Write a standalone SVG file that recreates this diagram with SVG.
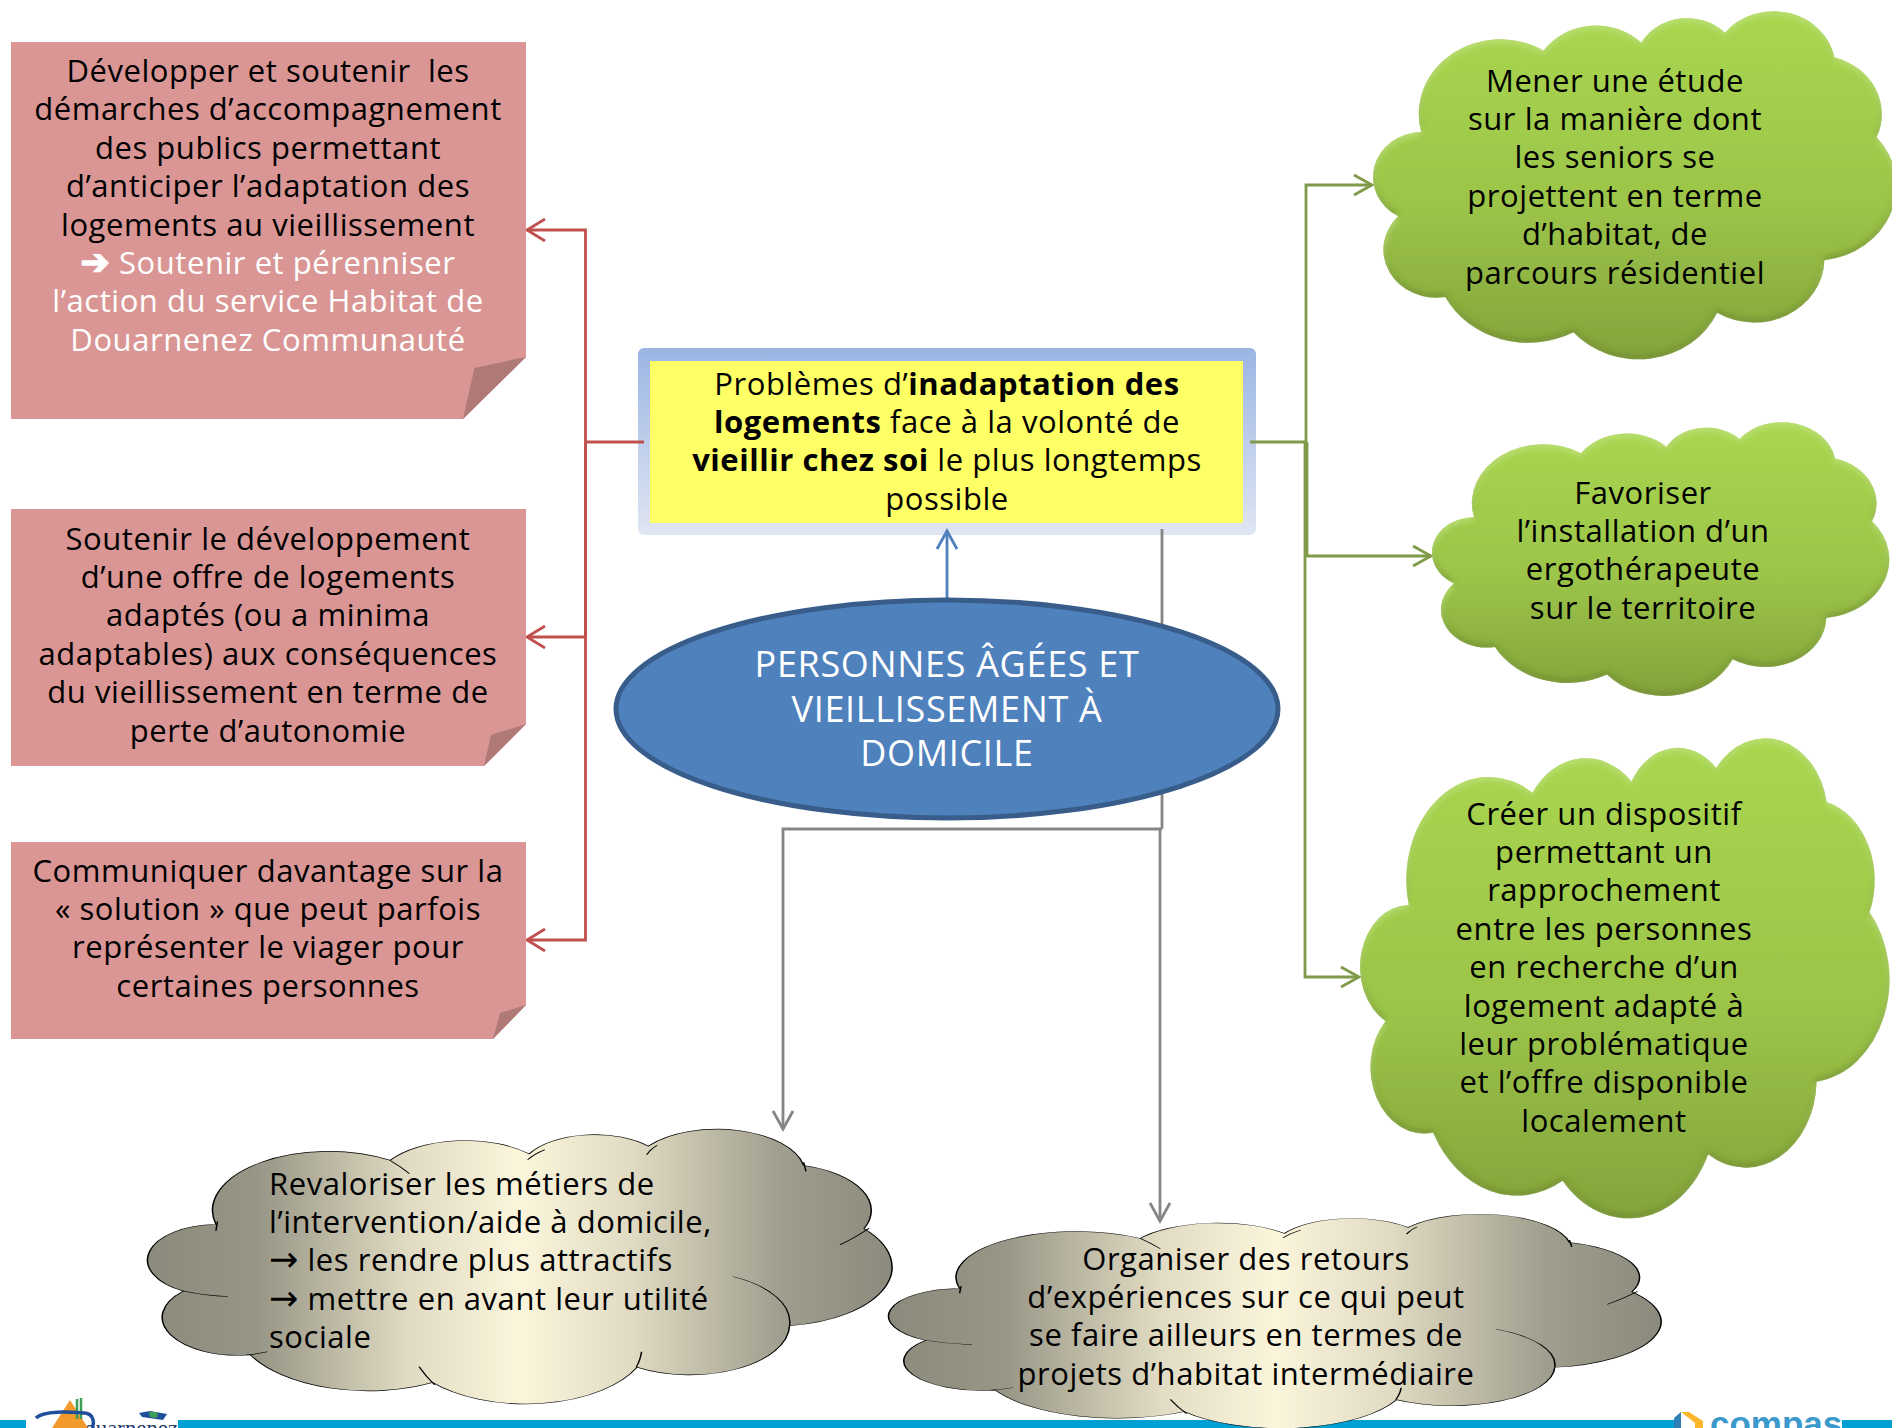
<svg xmlns="http://www.w3.org/2000/svg" width="1892" height="1428" viewBox="0 0 1892 1428">
<style>
text{font-family:"Open Sans","DejaVu Sans",sans-serif;font-size:31px;letter-spacing:.55px;fill:#000;text-anchor:middle}
.w{fill:#fff}
.l{text-anchor:start}
.big{font-size:36px;letter-spacing:.67px;fill:#fff}
.note{fill:#d99694}
.fold{fill:#ae7976}
.ar{font-family:"DejaVu Sans",sans-serif;font-weight:700;font-size:35px;stroke:#fff;stroke-width:1.500}
.ar2{font-family:"DejaVu Sans",sans-serif;font-size:35px}
.con{fill:none;stroke-width:2.800}
.red{stroke:#c0504d;marker-end:url(#mr)}
.grn{stroke:#7f9a48;marker-end:url(#mg)}
.gry{stroke:#868686;marker-end:url(#mk)}
.blu{stroke:#4f81bd;marker-end:url(#mb)}
.gc{fill:url(#gg)}
.yc{fill:url(#gy);stroke:#000;stroke-width:2;vector-effect:non-scaling-stroke}
.ya{fill:none;stroke:#000;stroke-width:2;vector-effect:non-scaling-stroke}
</style>
<defs>
<linearGradient id="gg" x1="0" y1="0" x2="0" y2="1"><stop offset="0" stop-color="#aad650"/><stop offset=".55" stop-color="#9cc549"/><stop offset="1" stop-color="#83a33c"/></linearGradient>
<linearGradient id="gy" x1="0" y1="0" x2="1" y2="0"><stop offset="0" stop-color="#8b8a7c"/><stop offset=".15" stop-color="#989686"/><stop offset=".35" stop-color="#e0dbc2"/><stop offset=".5" stop-color="#fbf5dc"/><stop offset=".65" stop-color="#e0dbc2"/><stop offset=".85" stop-color="#a09e8e"/><stop offset="1" stop-color="#8b8a7c"/></linearGradient>
<linearGradient id="gb" x1="0" y1="0" x2="0" y2="1"><stop offset="0" stop-color="#9bb5e3"/><stop offset="1" stop-color="#e0e6f3"/></linearGradient>
<filter id="bevel" x="-5%" y="-5%" width="110%" height="110%">
<feGaussianBlur in="SourceAlpha" stdDeviation="3" result="b"/>
<feOffset in="b" dy="-3" result="bu"/>
<feComposite in="SourceAlpha" in2="bu" operator="out" result="e1"/>
<feFlood flood-color="#5c7426" flood-opacity=".65"/>
<feComposite in2="e1" operator="in" result="dark"/>
<feOffset in="b" dy="3" result="bd"/>
<feComposite in="SourceAlpha" in2="bd" operator="out" result="e2"/>
<feFlood flood-color="#c6e884" flood-opacity=".7"/>
<feComposite in2="e2" operator="in" result="light"/>
<feMerge><feMergeNode in="SourceGraphic"/><feMergeNode in="dark"/><feMergeNode in="light"/></feMerge>
</filter>
<marker id="mr" markerUnits="userSpaceOnUse" markerWidth="24" markerHeight="24" refX="20" refY="12" orient="auto"><path d="M2,1L20,12L2,23" fill="none" stroke="#c0504d" stroke-width="2.800"/></marker>
<marker id="mg" markerUnits="userSpaceOnUse" markerWidth="24" markerHeight="24" refX="20" refY="12" orient="auto"><path d="M2,2L20,12L2,22" fill="none" stroke="#7f9a48" stroke-width="2.800"/></marker>
<marker id="mk" markerUnits="userSpaceOnUse" markerWidth="24" markerHeight="24" refX="20" refY="12" orient="auto"><path d="M2,2L20,12L2,22" fill="none" stroke="#868686" stroke-width="2.800"/></marker>
<marker id="mb" markerUnits="userSpaceOnUse" markerWidth="24" markerHeight="24" refX="20" refY="12" orient="auto"><path d="M2,2L20,12L2,22" fill="none" stroke="#4f81bd" stroke-width="2.800"/></marker>
<path id="cloud" d="M94,345A156,213 0 0 1 328,113A123,168 0 0 1 515,90A101,138 0 0 1 675,62A118,160 0 0 1 884,132A123,168 0 0 1 965,360A157,213 0 0 1 865,710A134,182 0 0 1 660,860A165,225 0 0 1 385,915A179,244 0 0 1 140,815A101,137 0 0 1 50,585A93,128 0 0 1 94,345Z"/>
<path id="cloudin" d="M328,113Q342,135 354,161M536,75Q522,90 513,111M687,59Q678,73 673,93M884,120L887,153M972,358Q955,390 933,418M865,710A134,182 0 0 0 789,533M666,804Q665,830 659,860M367,858Q376,893 388,924M163,804Q150,812 135,816M50,585Q80,602 110,605M96,334L94,367"/>
</defs>
<rect width="1892" height="1428" fill="#fff"/>

<g id="footer">
<rect x="0" y="1420" width="1892" height="8" fill="#009fd4"/>
<rect x="26" y="1420" width="152" height="8" fill="#fff"/>
<text x="68" y="1436" class="l" textLength="110" lengthAdjust="spacingAndGlyphs" style="font-family:'Liberation Serif',serif;font-size:24px;letter-spacing:0;fill:#1f3a6e">Douarnenez</text>
<path d="M70,1400L52,1428H88Z" fill="#f39a2c"/>
<path d="M77,1399V1419M81,1398V1419" stroke="#3f9e56" stroke-width="2.500"/>
<path d="M36,1418C44,1410 70,1412 85,1413C93,1414 95,1422 92,1428" fill="none" stroke="#1f4e9c" stroke-width="3.500"/>
<path d="M139,1413L150,1411L167,1414L163,1420L142,1417Z" fill="#1f4e9c"/>
<path d="M149,1412L158,1412L157,1418L150,1417Z" fill="#3f9e56"/>
<rect x="1674" y="1420" width="168" height="8" fill="#fff"/>
<path d="M1674,1428V1418L1681,1412V1428Z" fill="#2f7fb5"/>
<path d="M1681,1412L1689,1412L1703,1421V1428H1695V1423Z" fill="#fcb62c"/>
<text x="1710" y="1436" class="l" style="font-family:'Liberation Sans',sans-serif;font-weight:700;font-size:35px;letter-spacing:0;fill:#3b99cb">compas</text>
</g>

<g id="box-center">
<rect x="638" y="348" width="618" height="187" rx="6" fill="url(#gb)"/>
<rect x="650" y="361" width="593" height="162" fill="#ffff66"/>
<text><tspan x="947" y="394.500">Problèmes d’<tspan font-weight="700">inadaptation des</tspan></tspan><tspan x="947" y="432.900" font-weight="700">logements<tspan font-weight="400"> face à la volonté de</tspan></tspan><tspan x="947" y="471.300" font-weight="700">vieillir chez soi<tspan font-weight="400"> le plus longtemps</tspan></tspan><tspan x="947" y="509.700">possible</tspan></text>
</g>

<g id="connectors">
<path class="con" stroke="#c0504d" d="M644,442H585.500"/>
<path class="con red" d="M585.500,442V230H527"/>
<path class="con red" d="M585.500,442V637H527"/>
<path class="con red" d="M585.500,442V940H527"/>
<path class="con" stroke="#7f9a48" d="M1250,442H1306"/>
<path class="con grn" d="M1306,442V185H1372"/>
<path class="con grn" d="M1307,442V556H1431"/>
<path class="con grn" d="M1305,442V977H1359"/>
<path class="con blu" d="M947,600V531"/>
<path class="con" stroke="#868686" d="M1162,529V829"/>
<path class="con gry" d="M1162,829H783V1129"/>
<path class="con gry" d="M1160,829V1221"/>
</g>

<g id="ellipse">
<ellipse cx="947" cy="709" rx="331" ry="109" fill="#4f81bd" stroke="#385d8a" stroke-width="5"/>
<text class="big"><tspan x="947" y="677">PERSONNES ÂGÉES ET</tspan><tspan x="947" y="721.500">VIEILLISSEMENT À</tspan><tspan x="947" y="766">DOMICILE</tspan></text>
</g>

<g id="note-1">
<path class="note" d="M11,42H526V357L463,419H11Z"/>
<path class="fold" d="M526,357L474.500,368L463,419Z"/>
<text><tspan x="268" y="82">Développer et soutenir&#160; les</tspan><tspan x="268" y="120.400">démarches d’accompagnement</tspan><tspan x="268" y="158.800">des publics permettant</tspan><tspan x="268" y="197.200">d’anticiper l’adaptation des</tspan><tspan x="268" y="235.600">logements au vieillissement</tspan><tspan x="268" y="274" class="w"><tspan class="ar w">➔</tspan> Soutenir et pérenniser</tspan><tspan x="268" y="312.400" class="w">l’action du service Habitat de</tspan><tspan x="268" y="350.800" class="w">Douarnenez Communauté</tspan></text>
</g>
<g id="note-2">
<path class="note" d="M11,509H526V724L484,766H11Z"/>
<path class="fold" d="M526,724L491,735L484,766Z"/>
<text><tspan x="268" y="549.500">Soutenir le développement</tspan><tspan x="268" y="587.900">d’une offre de logements</tspan><tspan x="268" y="626.300">adaptés (ou a minima</tspan><tspan x="268" y="664.700">adaptables) aux conséquences</tspan><tspan x="268" y="703.100">du vieillissement en terme de</tspan><tspan x="268" y="741.500">perte d’autonomie</tspan></text>
</g>
<g id="note-3">
<path class="note" d="M11,842H526V1005L493,1039H11Z"/>
<path class="fold" d="M526,1005L500,1013L493,1039Z"/>
<text><tspan x="268" y="881.500">Communiquer davantage sur la</tspan><tspan x="268" y="919.900">« solution » que peut parfois</tspan><tspan x="268" y="958.300">représenter le viager pour</tspan><tspan x="268" y="996.700">certaines personnes</tspan></text>
</g>

<g id="cloud-1">
<g filter="url(#bevel)"><use href="#cloud" class="gc" transform="translate(1372,11) scale(.523,.351)"/></g>
<text><tspan x="1615" y="91.500">Mener une étude</tspan><tspan x="1615" y="129.900">sur la manière dont</tspan><tspan x="1615" y="168.300">les seniors se</tspan><tspan x="1615" y="206.700">projettent en terme</tspan><tspan x="1615" y="245.100">d’habitat, de</tspan><tspan x="1615" y="283.500">parcours résidentiel</tspan></text>
</g>
<g id="cloud-2">
<g filter="url(#bevel)"><use href="#cloud" class="gc" transform="translate(1431,422) scale(.457,.276)"/></g>
<text><tspan x="1643" y="503.500">Favoriser</tspan><tspan x="1643" y="541.900">l’installation d’un</tspan><tspan x="1643" y="580.300">ergothérapeute</tspan><tspan x="1643" y="618.700">sur le territoire</tspan></text>
</g>
<g id="cloud-3">
<g filter="url(#bevel)"><use href="#cloud" class="gc" transform="translate(1359,738) scale(.529,.484)"/></g>
<text><tspan x="1604" y="824.500">Créer un dispositif</tspan><tspan x="1604" y="862.900">permettant un</tspan><tspan x="1604" y="901.300">rapprochement</tspan><tspan x="1604" y="939.700">entre les personnes</tspan><tspan x="1604" y="978.100">en recherche d’un</tspan><tspan x="1604" y="1016.500">logement adapté à</tspan><tspan x="1604" y="1054.900">leur problématique</tspan><tspan x="1604" y="1093.300">et l’offre disponible</tspan><tspan x="1604" y="1131.700">localement</tspan></text>
</g>
<g id="cloud-4">
<g transform="translate(146,1129) scale(.744,.277)"><use href="#cloud" class="yc"/><use href="#cloudin" class="ya"/></g>
<text class="l"><tspan x="269" y="1194.500">Revaloriser les métiers de</tspan><tspan x="269" y="1232.900">l’intervention/aide à domicile,</tspan><tspan x="269" y="1271.300"><tspan class="ar2">→</tspan> les rendre plus attractifs</tspan><tspan x="269" y="1309.700"><tspan class="ar2">→</tspan> mettre en avant leur utilité</tspan><tspan x="269" y="1348.100">sociale</tspan></text>
</g>
<g id="cloud-5">
<g transform="translate(887,1214) scale(.772,.216)"><use href="#cloud" class="yc"/><use href="#cloudin" class="ya"/></g>
<text><tspan x="1246" y="1269.500">Organiser des retours</tspan><tspan x="1246" y="1307.900">d’expériences sur ce qui peut</tspan><tspan x="1246" y="1346.300">se faire ailleurs en termes de</tspan><tspan x="1246" y="1384.700">projets d’habitat intermédiaire</tspan></text>
</g>
</svg>
